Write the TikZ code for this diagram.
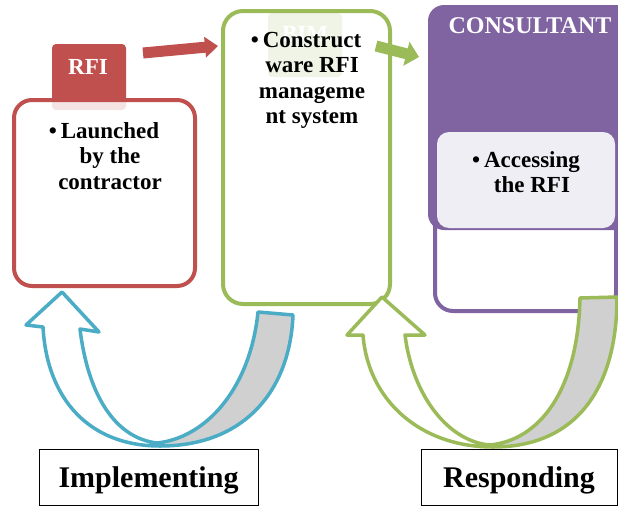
\documentclass[tikz,border=0pt]{standalone}
\usepackage{fontspec}
\setmainfont{Liberation Serif}
\usepackage{xcolor}
\usepackage{tikz}
\usetikzlibrary{arrows.meta}
\definecolor{RojoRFI}{RGB}{192,80,77}
\definecolor{VerdeBIM}{RGB}{155,187,89}
\definecolor{MoradoCons}{RGB}{128,100,162}
\definecolor{MoradoClaro}{RGB}{240,238,245}
\definecolor{AzulCiclo}{RGB}{75,172,198}
\definecolor{GrisCinta}{RGB}{208,208,208}

\begin{document}
\begin{tikzpicture}[x=1pt,y=-1pt,>=Latex,
  texto/.style={font=\fontsize{23}{25.5}\selectfont\bfseries,align=center,inner sep=0pt},
  caja/.style={line width=4pt,fill=white,fill opacity=0.85,inner sep=0pt},
  etapa/.style={draw,line width=1pt,fill=white,inner sep=0pt,minimum height=56pt,
    text depth=0pt,font=\fontsize{30}{36}\selectfont\bfseries}]
  \clip (0,0) rectangle (618,506);
  \fill[white] (0,0) rectangle (618,506);

  % BIM tab sitting under the green box
  \fill[VerdeBIM,rounded corners=4pt] (268,13) rectangle (342,77);
  \node[texto,white,anchor=base] (bim) at (305,41) {BIM};
  \node[caja,draw=VerdeBIM,rounded corners=20pt,minimum width=167pt,minimum height=293pt] (sistema) at (306.5,157.5) {};
  \node[texto,anchor=north] (sistemaTxt) at (312,32) {\llap{\textbullet\,}Construct\\ware RFI\\manageme\\nt system};

  % RFI tab and the contractor box
  \fill[RojoRFI,rounded corners=4pt] (52,44) rectangle (126,110);
  \node[texto,white,anchor=base] (rfi) at (88,74) {RFI};
  \node[caja,draw=RojoRFI,rounded corners=18pt,minimum width=181pt,minimum height=186pt] (contratista) at (104.5,193) {};
  \node[texto,anchor=north] (contratistaTxt) at (110,122) {\llap{\textbullet\,}Launched\\by the\\contractor};

  % arrows between the boxes
  \coordinate (r0) at (143,53);
  \coordinate (r1) at (218,46);
  \draw[RojoRFI,line width=11pt,-{Triangle[length=13pt,width=20pt]}] (r0) -- (r1);
  \coordinate (g0) at (376,46);
  \coordinate (g1) at (419,57);
  \draw[VerdeBIM,line width=11pt,-{Triangle[length=13pt,width=24pt]}] (g0) -- (g1);

  % consultant column
  \node[draw=MoradoCons,line width=4pt,fill=white,rounded corners=18pt,minimum width=181pt,minimum height=301pt] (consultor) at (525.5,160.5) {};
  \fill[MoradoCons,rounded corners=16pt] (428,5) rectangle (640,230);
  \fill[MoradoClaro,rounded corners=12pt] (437,132) rectangle (615,228);
  \node[texto,white,anchor=base,font=\fontsize{24}{26}\selectfont\bfseries] (cons) at (530,33) {CONSULTANT};
  \node[texto,anchor=north] (consTxt) at (532,151) {\llap{\textbullet\,}Accessing\\the RFI};

  % Implementing loop
  \draw[AzulCiclo,line width=3.5pt,fill=GrisCinta,line join=round]
    (157,443) .. controls (205,438) and (250,390) .. (258,312) -- (293,315)
    .. controls (290,390) and (245,446) .. (160,446) -- cycle;
  \draw[AzulCiclo,line width=3.5pt,fill=white,line join=round]
    (62,292) -- (99,332) -- (80,329) .. controls (88,395) and (115,438) .. (157,443)
    -- (160,446) .. controls (90,446) and (47,400) .. (43,327) -- (26,325) -- cycle;

  % Responding loop
  \draw[VerdeBIM,line width=3.5pt,fill=GrisCinta,line join=round]
    (490,445) .. controls (540,440) and (578,390) .. (580,298) -- (617,297)
    .. controls (617,390) and (575,447) .. (493,447) -- cycle;
  \draw[VerdeBIM,line width=3.5pt,fill=white,line join=round]
    (382,297) -- (425,335) -- (405,335) .. controls (413,398) and (450,442) .. (490,445)
    -- (493,447) .. controls (420,447) and (368,400) .. (363,335) -- (347,335) -- cycle;

  % stage labels
  \node[etapa,minimum width=219pt] (implementar) at (148.5,477) {Implementing};
  \node[etapa,minimum width=196pt] (responder) at (519,477) {Responding};
\end{tikzpicture}
\end{document}
